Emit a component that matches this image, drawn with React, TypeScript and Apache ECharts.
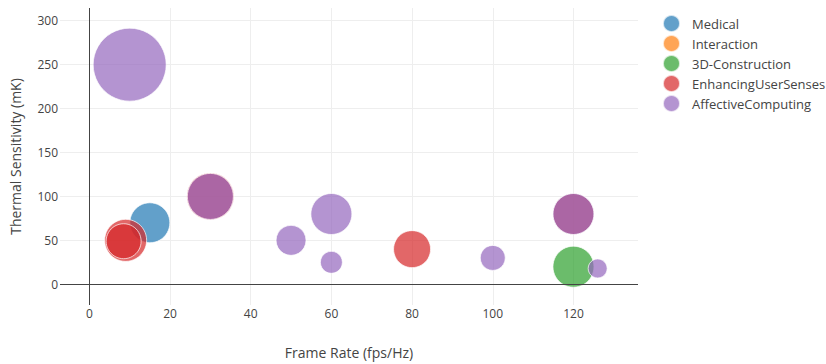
import React, { useEffect, useRef } from "react";
import * as echarts from "echarts";

// Each point: [frame rate (fps/Hz), thermal sensitivity (mK), bubble size]
const medical: number[][] = [[15, 70, 40]];
const interaction: number[][] = [];
const construction3D: number[][] = [[120, 20, 41]];
const enhancingUserSenses: number[][] = [
  [9, 50, 42],
  [8.5, 49, 35],
  [30, 100, 47],
  [80, 40, 37],
  [120, 80, 41],
];
const affectiveComputing: number[][] = [
  [10, 250, 73],
  [30, 100, 46],
  [50, 50, 30],
  [60, 80, 41],
  [60, 25, 22],
  [100, 30, 25],
  [120, 80, 41],
  [126, 18, 19],
];

const seriesNames = [
  "Medical",
  "Interaction",
  "3D-Construction",
  "EnhancingUserSenses",
  "AffectiveComputing",
];
const seriesData = [medical, interaction, construction3D, enhancingUserSenses, affectiveComputing];
const colors = ["#1f77b4", "#ff7f0e", "#2ca02c", "#d62728", "#9467bd"];

const FONT = "'Open Sans', 'Noto Sans', sans-serif";

export default function App() {
  const ref = useRef<HTMLDivElement>(null);

  useEffect(() => {
    if (!ref.current) return;
    const chart = echarts.init(ref.current, null, { renderer: "svg" });

    const series: any[] = seriesNames.map((name, i) => ({
      name,
      type: "scatter",
      data: seriesData[i],
      symbol: "circle",
      symbolSize: (v: number[]) => v[2],
      itemStyle: {
        color: colors[i],
        opacity: 0.7,
        borderColor: "#ffffff",
        borderWidth: 1,
      },
      emphasis: { disabled: true },
    }));

    // zero lines of both axes
    series[0].markLine = {
      silent: true,
      symbol: "none",
      label: { show: false },
      lineStyle: { color: "#444", width: 1, type: "solid" },
      data: [{ xAxis: 0 }, { yAxis: 0 }],
    };

    chart.setOption({
      animation: false,
      backgroundColor: "#ffffff",
      textStyle: { fontFamily: FONT },
      grid: { left: 60, top: 8, width: 578, height: 297, containLabel: false },
      legend: {
        orient: "vertical",
        left: 662,
        top: 14,
        padding: 0,
        itemWidth: 31,
        itemHeight: 17,
        itemGap: 1,
        icon: "circle",
        textStyle: { fontFamily: FONT, fontSize: 13, color: "#444", lineHeight: 17 },
        data: seriesNames,
      },
      xAxis: {
        type: "value",
        min: -7.27,
        max: 136,
        minInterval: 20,
        maxInterval: 20,
        name: "Frame Rate (fps/Hz)",
        nameLocation: "middle",
        nameGap: 40,
        nameTextStyle: { fontFamily: FONT, fontSize: 14, color: "#444" },
        axisLine: { show: false },
        axisTick: { show: false },
        axisLabel: {
          fontFamily: FONT,
          fontSize: 12,
          color: "#444",
          margin: 2,
          showMinLabel: false,
          showMaxLabel: false,
        },
        splitLine: {
          show: true,
          showMinLine: false,
          showMaxLine: false,
          lineStyle: { color: "#eeeeee", width: 1 },
        },
      },
      yAxis: {
        type: "value",
        min: -23.6,
        max: 314.5,
        minInterval: 50,
        maxInterval: 50,
        name: "Thermal Sensitivity (mK)",
        nameLocation: "middle",
        nameGap: 38,
        nameTextStyle: { fontFamily: FONT, fontSize: 14, color: "#444" },
        axisLine: { show: false },
        axisTick: { show: false },
        axisLabel: {
          fontFamily: FONT,
          fontSize: 12,
          color: "#444",
          margin: 2,
          showMinLabel: false,
          showMaxLabel: false,
        },
        splitLine: {
          show: true,
          showMinLine: false,
          showMaxLine: false,
          lineStyle: { color: "#eeeeee", width: 1 },
        },
      },
      series,
    });

    return () => chart.dispose();
  }, []);

  return (
    <div
      ref={ref}
      style={{ position: "fixed", left: 0, top: 0, width: 826, height: 364 }}
    />
  );
}
